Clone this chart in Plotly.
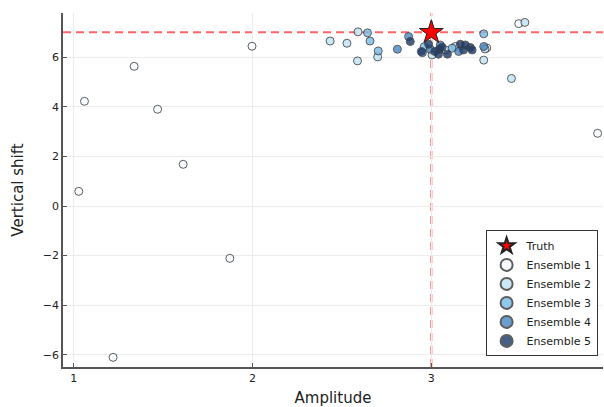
import plotly.graph_objects as go

truth_amp = [3.0]
truth_shift = [7.0]

e1_amp = [1.028, 1.06, 1.338, 1.469, 1.612, 1.997, 1.22, 1.873, 3.93, 3.489, 3.31]
e1_shift = [0.59, 4.22, 5.63, 3.90, 1.68, 6.44, -6.10, -2.11, 2.93, 7.35, 6.37]

e2_amp = [2.434, 2.528, 2.59, 2.587, 2.70, 3.004, 3.08, 3.134, 3.30, 3.293, 3.523, 3.448]
e2_shift = [6.65, 6.56, 7.02, 5.85, 6.01, 6.09, 6.29, 6.43, 6.33, 5.88, 7.40, 5.14]

e3_amp = [2.643, 2.657, 2.703, 3.293, 3.116, 2.96]
e3_shift = [6.98, 6.65, 6.25, 6.94, 6.36, 6.42]

e4_amp = [2.81, 2.873, 2.994, 3.05, 3.293, 3.153, 2.95]
e4_shift = [6.32, 6.83, 6.32, 6.49, 6.43, 6.23, 6.18]

e5_amp = [2.882, 2.944, 2.985, 3.02, 3.045, 3.04, 3.09, 3.162, 3.19, 3.218, 3.18, 3.228, 3.06]
e5_shift = [6.63, 6.23, 6.52, 6.23, 6.32, 6.12, 6.12, 6.52, 6.49, 6.39, 6.29, 6.29, 6.40]

names = ["Ensemble 1", "Ensemble 2", "Ensemble 3", "Ensemble 4", "Ensemble 5"]
colors = ["#f7fbff", "#bfe3f4", "#78bde8", "#4a89c6", "#1f3d6b"]

x_ticks = [1, 2, 3]
y_ticks = [-6, -4, -2, 0, 2, 4, 6]

fig = go.Figure()

series = [(e1_amp, e1_shift), (e2_amp, e2_shift), (e3_amp, e3_shift),
          (e4_amp, e4_shift), (e5_amp, e5_shift)]
for i, ((xs, ys), nm, col) in enumerate(zip(series, names, colors)):
    fig.add_trace(go.Scatter(
        x=xs, y=ys, mode="markers", name=nm, legendrank=10 + i,
        marker=dict(size=8, color=col, opacity=0.82,
                    line=dict(color="#3a3a3a", width=1)),
    ))

fig.add_trace(go.Scatter(
    x=truth_amp, y=truth_shift, mode="markers", name="Truth", legendrank=1,
    marker=dict(symbol="star", size=18, color="#ff0000",
                line=dict(color="#222222", width=1)),
))

dash_line = dict(color="rgba(255,0,0,0.6)", width=2, dash="8px,5px")
fig.add_shape(type="line", xref="x", yref="paper", x0=truth_amp[0], x1=truth_amp[0],
              y0=0, y1=1, line=dash_line, layer="below")
fig.add_shape(type="line", xref="paper", yref="y", x0=0, x1=1,
              y0=truth_shift[0], y1=truth_shift[0], line=dash_line, layer="below")

axis_common = dict(
    showgrid=True, gridcolor="#ececec", gridwidth=1, zeroline=False,
    showline=True, linecolor="#555555", linewidth=1.5, ticks="inside",
    ticklen=4, tickcolor="#555555", mirror=False,
    tickfont=dict(family="DejaVu Sans", size=11, color="#222222"),
)

fig.update_layout(
    width=604, height=407,
    margin=dict(l=63, r=1, t=13, b=40),
    plot_bgcolor="white", paper_bgcolor="white",
    font=dict(family="DejaVu Sans", color="#222222"),
    xaxis=dict(range=[0.94, 3.96], tickvals=x_ticks, ticktext=[str(v) for v in x_ticks],
               title=dict(text="Amplitude", font=dict(size=15), standoff=10), **axis_common),
    yaxis=dict(range=[-6.49, 7.78], tickvals=y_ticks,
               ticktext=[("\u2212" + str(-v)) if v < 0 else str(v) for v in y_ticks],
               title=dict(text="Vertical shift", font=dict(size=15), standoff=16), **axis_common),
    legend=dict(x=0.99, y=0.03, xanchor="right", yanchor="bottom",
                bgcolor="white", bordercolor="#333333", borderwidth=1,
                font=dict(family="DejaVu Sans", size=11), tracegroupgap=0,
                itemsizing="constant", itemwidth=30),
    showlegend=True,
)

fig.write_html("out.html", config={"displayModeBar": False},
               post_script="document.body.style.margin='0';document.body.style.overflow='hidden';")
